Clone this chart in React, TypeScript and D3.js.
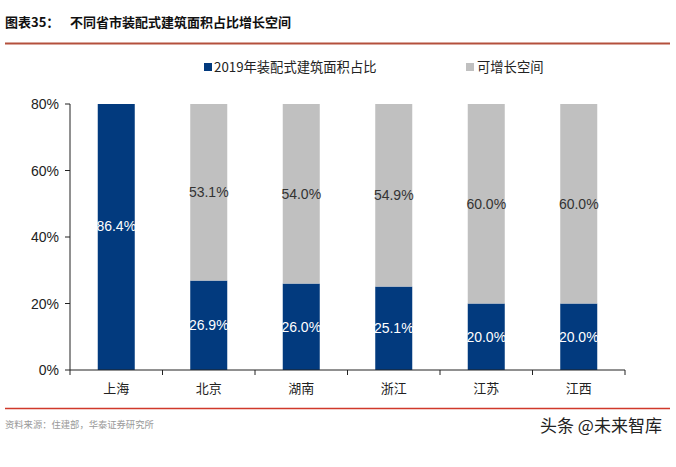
import React from "react";
import * as d3 from "d3";

const categories = ["上海", "北京", "湖南", "浙江", "江苏", "江西"];
const share2019 = [86.4, 26.9, 26.0, 25.1, 20.0, 20.0];
const growthRoom: (number | null)[] = [null, 53.1, 54.0, 54.9, 60.0, 60.0];
const yTicks = [0, 20, 40, 60, 80];
const seriesNames = ["2019年装配式建筑面积占比", "可增长空间"];

const W = 676;
const H = 467;
const m = { left: 70, right: 625, top: 104, bottom: 370 };
const BLUE = "#023a7e";
const GREY = "#c0c0c0";
const CJK = "'Noto Sans CJK SC', sans-serif";
const LAT = "'Liberation Sans', Arial, sans-serif";

export default function App() {
  const x = d3.scaleBand<string>().domain(categories).range([m.left, m.right]).paddingInner(0.6).paddingOuter(0.3);
  const y = d3.scaleLinear().domain([0, 80]).range([m.bottom, m.top]);
  const bw = x.bandwidth();
  const seg = (m.right - m.left) / categories.length;
  const boundaries = d3.range(categories.length + 1).map((i) => m.left + i * seg);
  const xb = (i: number) => m.left + (i + 0.5) * seg - bw / 2;

  return (
    <svg width={W} height={H} style={{ position: "absolute", left: 0, top: 0, background: "#fff" }}>
      <defs>
        <clipPath id="plot">
          <rect x={m.left} y={m.top} width={m.right - m.left} height={m.bottom - m.top} />
        </clipPath>
      </defs>
      {/* title */}
      <text x={5} y={27} fontFamily={CJK} fontWeight={700} fontSize={13} fill="#111">
        图表35：
      </text>
      <text x={70} y={27} fontFamily={CJK} fontWeight={700} fontSize={13} fill="#111">
        不同省市装配式建筑面积占比增长空间
      </text>
      <line x1={5} x2={670} y1={43.5} y2={43.5} stroke="#b4503c" strokeWidth={2} />

      {/* legend */}
      <rect x={204} y={63} width={8} height={8} fill={BLUE} />
      <text x={214} y={72} fontFamily={CJK} fontSize={13.3} fill="#222">
        {seriesNames[0]}
      </text>
      <rect x={466} y={63} width={8} height={8} fill={GREY} />
      <text x={477} y={72} fontFamily={CJK} fontSize={13.3} fill="#222">
        {seriesNames[1]}
      </text>

      {/* bars */}
      <g clipPath="url(#plot)">
        {categories.map((c, i) => (
          <g key={c}>
            <rect x={xb(i)} y={y(share2019[i])} width={bw} height={y(0) - y(share2019[i])} fill={BLUE} />
            {growthRoom[i] != null && (
              <rect
                x={xb(i)}
                y={y(share2019[i] + (growthRoom[i] as number))}
                width={bw}
                height={y(share2019[i]) - y(share2019[i] + (growthRoom[i] as number))}
                fill={GREY}
              />
            )}
          </g>
        ))}
      </g>
      {categories.map((c, i) => (
        <g key={c + "l"}>
          <text x={xb(i) + bw / 2} y={y(share2019[i] / 2) + 5} textAnchor="middle" fontFamily={LAT} fontSize={14} fill="#fff">
            {share2019[i].toFixed(1)}%
          </text>
          {growthRoom[i] != null && (
            <text
              x={xb(i) + bw / 2}
              y={y(share2019[i] + (growthRoom[i] as number) / 2) + 5}
              textAnchor="middle"
              fontFamily={LAT}
              fontSize={14}
              fill="#333"
            >
              {(growthRoom[i] as number).toFixed(1)}%
            </text>
          )}
          <text x={xb(i) + bw / 2} y={393} textAnchor="middle" fontFamily={CJK} fontSize={13} fill="#222">
            {c}
          </text>
        </g>
      ))}

      {/* y axis */}
      <line x1={m.left} x2={m.left} y1={m.top} y2={m.bottom} stroke="#222" strokeWidth={1} />
      {yTicks.map((t) => (
        <g key={t}>
          <line x1={m.left - 5} x2={m.left} y1={y(t)} y2={y(t)} stroke="#222" />
          <text x={59} y={y(t) + 5} textAnchor="end" fontFamily={LAT} fontSize={14} fill="#222">
            {t}%
          </text>
        </g>
      ))}
      {/* x axis */}
      <line x1={m.left} x2={m.right} y1={m.bottom} y2={m.bottom} stroke="#222" />
      {boundaries.map((b, i) => (
        <line key={i} x1={b} x2={b} y1={m.bottom} y2={m.bottom + 5} stroke="#222" />
      ))}

      {/* footer */}
      <line x1={5} x2={670} y1={408.5} y2={408.5} stroke="#d0392b" strokeWidth={1.5} />
      <text x={5} y={428} fontFamily={CJK} fontSize={9.3} fill="#999">
        资料来源：住建部，华泰证券研究所
      </text>
      <text x={540} y={432} fontFamily={CJK} fontSize={17} fill="#222">
        头条 @未来智库
      </text>
    </svg>
  );
}
